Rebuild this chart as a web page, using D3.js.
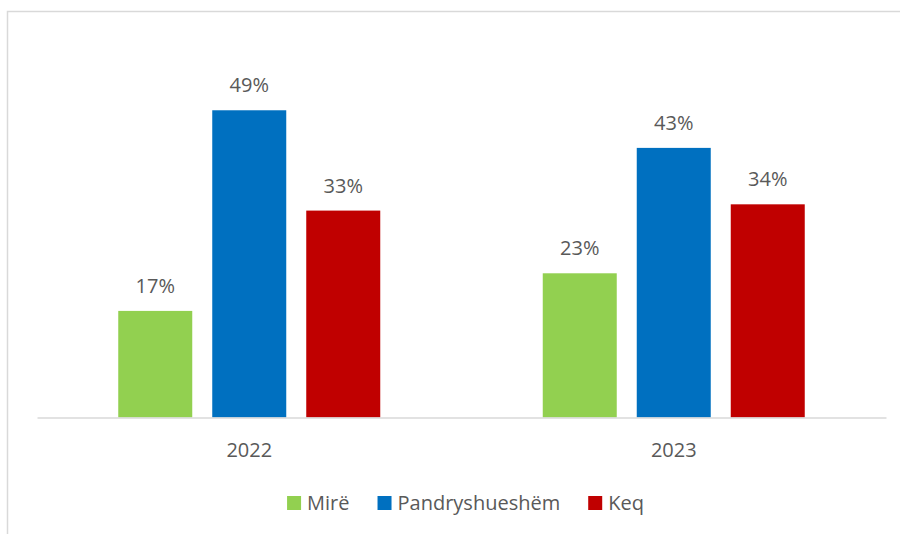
<!DOCTYPE html>
<html><head><meta charset="utf-8">
<script src="https://cdn.jsdelivr.net/npm/d3@7"></script>
<style>
body{margin:0;background:#fff;}
svg{display:block;font-family:"Open Sans",sans-serif;}
</style></head>
<body>
<svg id="chart" width="900" height="534"></svg>
<script>
const categories = ["2022", "2023"];
const seriesNames = ["Mirë", "Pandryshueshëm", "Keq"];
const seriesColors = ["#92d050", "#0070c0", "#c00000"];
const valuesMire = [17, 23];
const valuesPandryshueshem = [49, 43];
const valuesKeq = [33, 34];
const seriesValues = [valuesMire, valuesPandryshueshem, valuesKeq];

const svg = d3.select("#chart");
const textColor = "#595959";

// frame (cropped on right and bottom)
svg.append("rect").attr("x", 7.5).attr("y", 11.5).attr("width", 960).attr("height", 600)
  .attr("fill", "none").attr("stroke", "#d9d9d9").attr("stroke-width", 1.5);

const left = 37, right = 886, baseY = 417.5;
const x0 = d3.scaleBand().domain(categories).range([left, right]).padding(0);
const groupInner = 262;
const x1 = d3.scaleBand().domain(seriesNames).range([0, groupInner]).paddingInner(20/94).paddingOuter(0);
const y = d3.scaleLinear().domain([0, 55]).range([baseY, baseY - 55 * 6.27]);

const data = [];
categories.forEach((c, i) => {
  seriesNames.forEach((s, j) => data.push({cat: c, series: s, value: seriesValues[j][i], color: seriesColors[j]}));
});

const off = (x0.bandwidth() - groupInner) / 2;

svg.append("g").selectAll("rect").data(data).join("rect")
  .attr("x", d => x0(d.cat) + off + x1(d.series))
  .attr("y", d => y(d.value))
  .attr("width", x1.bandwidth())
  .attr("height", d => y(0) - y(d.value))
  .attr("fill", d => d.color);

svg.append("g").selectAll("text").data(data).join("text")
  .attr("x", d => x0(d.cat) + off + x1(d.series) + x1.bandwidth() / 2)
  .attr("y", d => y(d.value) - 18)
  .attr("text-anchor", "middle")
  .attr("font-size", 20)
  .attr("fill", textColor)
  .text(d => d.value + "%");

// axis
const axis = d3.axisBottom(x0).tickSize(0).tickPadding(0);
const gAxis = svg.append("g").attr("transform", `translate(0,${baseY})`).call(axis);
gAxis.select(".domain").attr("stroke", "#d9d9d9").attr("stroke-width", 1.5);
gAxis.selectAll("text").attr("font-size", 20).attr("fill", textColor)
  .attr("font-family", "Open Sans, sans-serif").attr("dy", null).attr("y", 39.5);

// legend
const legend = svg.append("g");
const items = legend.selectAll("g").data(seriesNames).join("g");
items.append("rect").attr("width", 14).attr("height", 14).attr("y", 496)
  .attr("fill", (d, i) => seriesColors[i]);
items.append("text").attr("x", 20).attr("y", 510).attr("font-size", 20).attr("fill", textColor).text(d => d);
let cx = 0;
const widths = [];
items.each(function(d) {
  const w = 20 + d3.select(this).select("text").node().getComputedTextLength();
  widths.push(w);
});
const gap = 28;
const total = d3.sum(widths) + gap * (widths.length - 1);
let start = 465.5 - total / 2;
items.attr("transform", (d, i) => {
  const t = `translate(${start},0)`;
  start += widths[i] + gap;
  return t;
});
</script>
</body></html>
